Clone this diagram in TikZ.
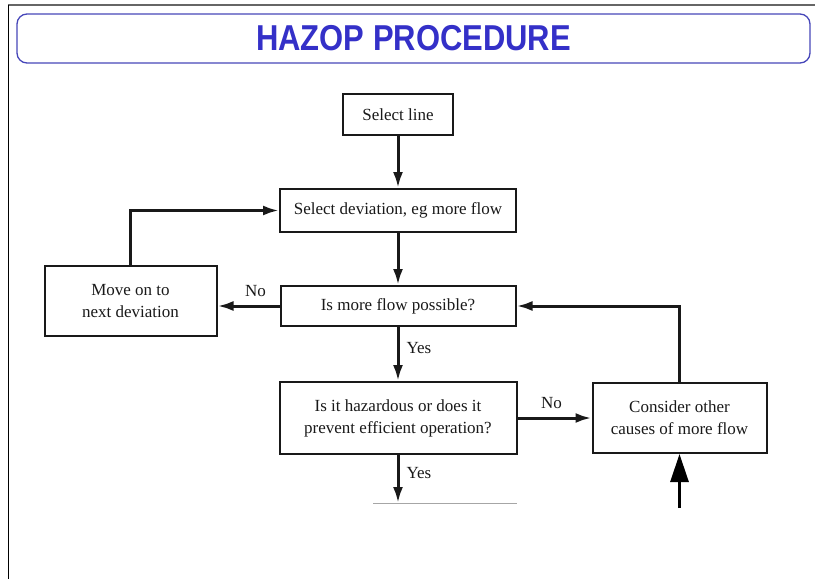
\documentclass[tikz,border=0pt]{standalone}
\usepackage{fontspec}
\setmainfont{Liberation Serif}
\newfontfamily\titlefont{Liberation Sans}[FakeStretch=0.86]
\usepackage{tikz}
\usetikzlibrary{arrows.meta,positioning}
\definecolor{titleblue}{RGB}{52,48,200}
\definecolor{framblue}{RGB}{70,70,185}
\definecolor{scanink}{RGB}{25,25,25}

\begin{document}
\begin{tikzpicture}[x=1pt, y=-1pt, >={Latex[length=16pt,width=10pt]},
  every node/.style={font=\fontsize{17}{22}\selectfont, text=scanink}]
\tikzstyle{b}=[draw=scanink, line width=2pt, align=center, inner sep=2pt]
\tikzstyle{link}=[draw=scanink, line width=3pt, ->]
\tikzstyle{lbl}=[inner sep=1pt]
\useasboundingbox (0,0) rectangle (815,579);
% slide frame and title
\draw[line width=2pt, gray!80!black] (8,5) -- (815,5);
\draw[line width=1pt, black] (8,5) -- (8,579);
\node[draw=framblue, line width=1.3pt, rounded corners=10pt, minimum width=793pt, minimum height=49pt,
  font=\titlefont\bfseries\fontsize{36}{40}\selectfont, text=titleblue] (title) at (413.5,38.5) {HAZOP PROCEDURE};
% flow chart
\node[b, minimum width=110pt, minimum height=41pt] (sel) at (398,114.5) {Select line};
\node[b, below=52pt of sel, minimum width=236pt, minimum height=43pt] (dev) {Select deviation, eg more flow};
\node[b, below=52pt of dev, minimum width=235pt, minimum height=40pt] (poss) {Is more flow possible?};
\node[b, below=54pt of poss, minimum width=237pt, minimum height=72pt] (haz) {Is it hazardous or does it\\prevent efficient operation?};
\node[b, left=62pt of poss, yshift=5pt, minimum width=172pt, minimum height=70pt] (move) {Move on to\\next deviation};
\node[b, right=74pt of haz, minimum width=174pt, minimum height=70pt] (cons) {Consider other\\causes of more flow};
\coordinate (out) at (398,503);
\coordinate[below=54pt of cons] (feed);
\draw[link] (sel) -- (dev);
\draw[link] (dev) -- (poss);
\draw[link] (poss) -- node[lbl, right=6pt, yshift=6pt] {Yes} (haz);
\draw[link] (poss.west) -- node[lbl, above=7pt, xshift=7pt] {No} (poss.west -| move.east);
\draw[link] (move.north) |- (dev.west);
\draw[link] (haz) -- node[lbl, above=7pt, xshift=-3pt] {No} (cons);
\draw[link] (cons.north) |- (poss.east);
\draw[link] (haz) -- node[lbl, right=6pt, yshift=6pt] {Yes} (out);
\draw[line width=1pt, gray!70] (373,503) -- (517,503);
\draw[line width=3pt, -{Triangle[length=28pt,width=18pt]}] (feed) -- (cons.south);
\end{tikzpicture}
\end{document}
